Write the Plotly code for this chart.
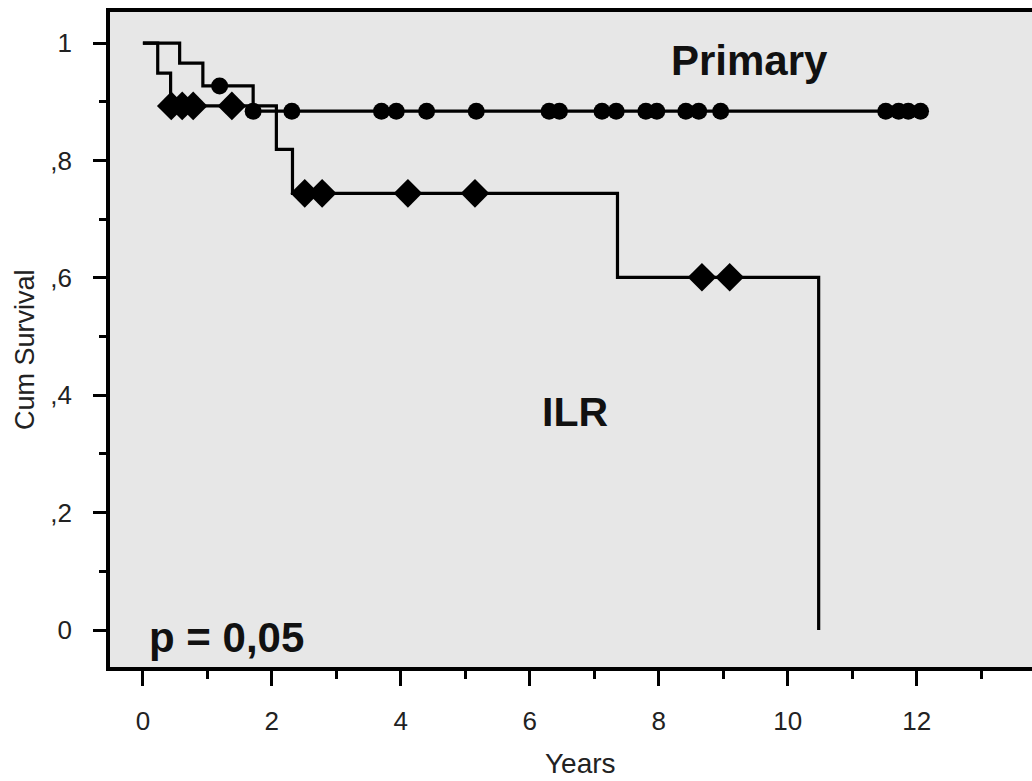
import plotly.graph_objects as go
import bisect

# ---------------- data ----------------
# ILR group (diamonds)
ilr_event_times = [0.23, 0.43, 2.07, 2.32, 7.36, 10.48]
ilr_survival = [0.949, 0.893, 0.819, 0.744, 0.601, 0.0]
ilr_censored_times = [0.44, 0.61, 0.78, 1.38, 2.51, 2.78, 4.11, 5.15, 8.67, 9.10]

# Primary group (circles)
prim_event_times = [0.57, 0.93, 1.71]
prim_survival = [0.966, 0.927, 0.884]
prim_last_time = 12.06
prim_censored_times = [1.19, 1.71, 2.31, 3.70, 3.93, 4.40, 5.17, 6.30, 6.46, 7.12,
                       7.34, 7.80, 7.97, 8.42, 8.62, 8.96, 11.52, 11.72, 11.87, 12.06]

x_tick_vals = [0, 2, 4, 6, 8, 10, 12, 14]
x_tick_text = ["0", "2", "4", "6", "8", "10", "12", "14"]
y_tick_vals = [0, 0.2, 0.4, 0.6, 0.8, 1.0]
y_tick_text = ["0", ",2", ",4", ",6", ",8", "1"]

FONT = "Liberation Sans, Arial, Helvetica, sans-serif"


def surv_at(t, times, surv):
    i = bisect.bisect_right(times, t)
    return 1.0 if i == 0 else surv[i - 1]


fig = go.Figure()

# ILR step curve
fig.add_trace(go.Scatter(
    x=[0] + ilr_event_times,
    y=[1.0] + ilr_survival,
    mode="lines", line=dict(shape="hv", color="black", width=3.2),
    showlegend=False, hoverinfo="skip"))

# Primary step curve
fig.add_trace(go.Scatter(
    x=[0] + prim_event_times + [prim_last_time],
    y=[1.0] + prim_survival + [prim_survival[-1]],
    mode="lines", line=dict(shape="hv", color="black", width=3.2),
    showlegend=False, hoverinfo="skip"))

# Censor marks
fig.add_trace(go.Scatter(
    x=prim_censored_times,
    y=[surv_at(t, prim_event_times, prim_survival) for t in prim_censored_times],
    mode="markers", marker=dict(symbol="circle", size=17, color="black"),
    showlegend=False))
fig.add_trace(go.Scatter(
    x=ilr_censored_times,
    y=[surv_at(t, ilr_event_times, ilr_survival) for t in ilr_censored_times],
    mode="markers", marker=dict(symbol="diamond", size=22, color="black"),
    showlegend=False))

annotations = [
    dict(text="<b>Primary</b>", x=9.40, y=0.971, xref="x", yref="y",
         showarrow=False, font=dict(family=FONT, size=42, color="#111")),
    dict(text="<b>ILR</b>", x=6.70, y=0.371, xref="x", yref="y",
         showarrow=False, font=dict(family=FONT, size=41, color="#111")),
    dict(text="<b>p = 0,05</b>", x=0.06, y=-0.012, xref="x", yref="y",
         xanchor="left", showarrow=False, font=dict(family=FONT, size=42, color="#111")),
    dict(text="Cum Survival", x=-0.0909, y=0.484, xref="paper", yref="paper",
         xanchor="center", yanchor="middle",
         textangle=-90, showarrow=False, font=dict(family=FONT, size=27, color="#222")),
    dict(text="Years", x=0.5037, y=-0.1466, xref="paper", yref="paper",
         xanchor="center", yanchor="middle",
         showarrow=False, font=dict(family=FONT, size=28, color="#222")),
]

# figure is slightly wider than the window so the right edge of the plot is cut off
fig.update_layout(
    width=1045, height=781,
    margin=dict(l=110, r=0, t=12, b=114),
    paper_bgcolor="white", plot_bgcolor="#e7e7e7",
    annotations=annotations,
    font=dict(family=FONT, color="#222"),
)

fig.update_xaxes(
    range=[-0.51, 13.99], tickvals=x_tick_vals, ticktext=x_tick_text,
    showgrid=False, zeroline=False,
    showline=True, linecolor="black", linewidth=3.5, mirror=True,
    ticks="outside", ticklen=15, tickwidth=3, tickcolor="black",
    ticklabelstandoff=13,
    tickfont=dict(family=FONT, size=26, color="#222"),
    minor=dict(dtick=1, tick0=1, ticks="outside", ticklen=8, tickwidth=3, tickcolor="black", showgrid=False),
)
fig.update_yaxes(
    range=[-0.063, 1.053], tickvals=y_tick_vals, ticktext=y_tick_text,
    showgrid=False, zeroline=False,
    showline=True, linecolor="black", linewidth=3.5,
    ticks="outside", ticklen=13, tickwidth=3, tickcolor="black",
    ticklabelstandoff=16,
    tickfont=dict(family=FONT, size=26, color="#222"),
    minor=dict(dtick=0.1, tick0=0.1, ticks="outside", ticklen=7, tickwidth=3, tickcolor="black", showgrid=False),
)

fig.write_html("out.html",
               config={"displayModeBar": False},
               post_script="document.body.style.margin='0px';document.body.style.overflow='hidden';")
